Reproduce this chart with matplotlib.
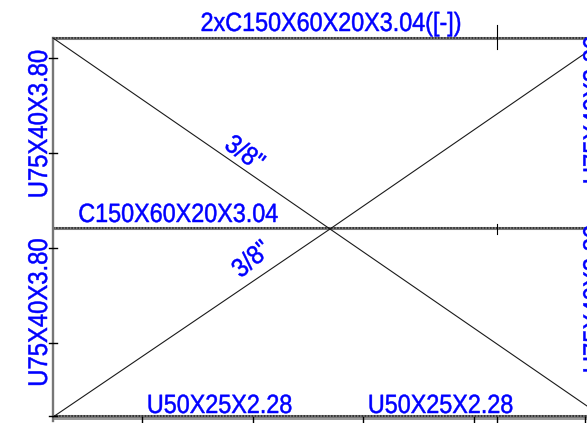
import matplotlib
matplotlib.use('Agg')
import matplotlib.pyplot as plt
import matplotlib.patheffects as pe
from matplotlib.transforms import Affine2D

# drawing coordinates in pixels
left_x = 53
right_x = 587
chord_y = [38, 228.5, 416]
left_ticks_y = [58, 153, 248, 343, 416]
bottom_ticks_x = [142, 253, 363, 474, 496.5, 585]
top_tick_x = 496.5

diag_down_x = [53, 330, 587]
diag_down_y = [38, 229, 406]
diag_up_x = [53, 330, 587]
diag_up_y = [417, 229, 52]

horizontal_labels = ['2xC150X60X20X3.04([-])', 'C150X60X20X3.04', 'U50X25X2.28', 'U50X25X2.28']
horizontal_x = [331, 178, 219.5, 440.5]
horizontal_y = [31, 222, 413, 413]

vertical_labels = ['U75X40X3.80', 'U75X40X3.80', 'U75X40X3.80', 'U75X40X3.80']
vertical_x = [47, 47, 602, 602]
vertical_y = [124, 312.5, 110, 299]

weld_labels = ['3/8"', '3/8"']
weld_x = [244, 252]
weld_y = [154, 260]
weld_rot = [-36, 40]

BLUE = '#0000ff'
FONT = ['Liberation Sans', 'DejaVu Sans']


class Narrow(pe.AbstractPathEffect):
    """Squeeze the text along its own direction, about its middle, and thicken it a bit"""

    def __init__(self, sx):
        super().__init__()
        self.sx = sx

    def draw_path(self, renderer, gc, tpath, affine, rgbFace=None):
        box = tpath.get_extents()
        mid = (box.x0 + box.x1) / 2
        squeeze = Affine2D().translate(-mid, 0).scale(self.sx, 1).translate(mid, 0)
        gc0 = renderer.new_gc()
        gc0.copy_properties(gc)
        gc0.set_foreground(BLUE)
        gc0.set_linewidth(0.35)
        renderer.draw_path(gc0, tpath, squeeze + affine, rgbFace)
        gc0.restore()


fig = plt.figure(figsize=(5.87, 4.23), dpi=100)
ax = fig.add_axes([0, 0, 1, 1])
ax.set_xlim(0, 587)
ax.set_ylim(423, 0)
ax.axis('off')

# chords, dark dotted core over a grey band
for y in chord_y:
    ax.plot([left_x, right_x], [y, y], color='#7a7a7a', lw=2.2, solid_capstyle='butt')
    ax.plot([left_x, right_x], [y, y], color='#222222', lw=1.1, ls=(0, (1, 1)))
ax.plot([left_x, right_x], [419, 419], color='#999999', lw=1.4)

# left column
ax.plot([left_x, left_x], [chord_y[0], 421], color='#777777', lw=1.7)

# bracing
ax.plot(diag_down_x, diag_down_y, color='#1a1a1a', lw=0.8)
ax.plot(diag_up_x, diag_up_y, color='#1a1a1a', lw=0.8)

# tick marks
for y in left_ticks_y:
    ax.plot([49, 57], [y, y], color='black', lw=1.0)
for x in bottom_ticks_x:
    ax.plot([x, x], [417, 423], color='black', lw=1.0)
ax.plot([top_tick_x, top_tick_x], [25, 49], color='black', lw=0.8)
ax.plot([top_tick_x, top_tick_x], [224, 234], color='black', lw=0.8)

# labels
for s, x, y in zip(horizontal_labels, horizontal_x, horizontal_y):
    ax.text(x, y, s, color=BLUE, fontsize=19, family=FONT, ha='center', va='baseline',
            path_effects=[Narrow(0.885)])
for s, x, y in zip(vertical_labels, vertical_x, vertical_y):
    ax.text(x, y, s, color=BLUE, fontsize=19.5, family=FONT, ha='center', va='baseline', rotation=90,
            rotation_mode='anchor', path_effects=[Narrow(0.88)])
for s, x, y, r in zip(weld_labels, weld_x, weld_y, weld_rot):
    ax.text(x, y, s, color=BLUE, fontsize=19, family=FONT, ha='center', va='center',
            rotation=r, rotation_mode='anchor', path_effects=[Narrow(0.9)])

fig.savefig('out.png', dpi=100)
